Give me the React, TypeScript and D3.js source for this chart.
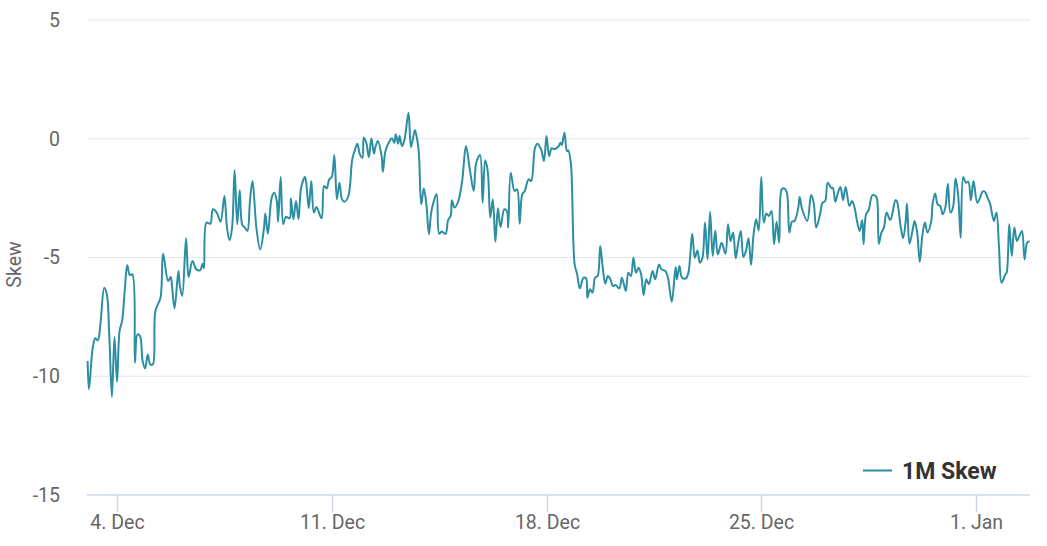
import * as React from 'react';
import * as d3 from 'd3';

// hours since 3 Dec 00:00
const hours = [
  1, 2, 5, 7, 9, 11, 14, 16, 18, 20, 22, 24, 26, 28, 30, 32, 34, 36, 38, 40, 42, 44, 46, 48, 50, 52, 54, 58,
  60, 64, 66, 67, 69, 72, 73, 75, 78, 80, 83, 86, 89, 91, 92, 94, 97, 99, 102, 105, 108, 110, 112, 114, 116,
  118, 120, 122, 124, 126, 128, 130, 133, 136, 139, 140, 142, 145, 147, 149, 150, 152, 154, 156, 159, 160,
  162, 164, 166, 168, 171, 172, 174, 176, 178, 180, 184, 186, 188, 190, 192, 194, 196, 198, 200, 202, 205,
  208, 210, 212, 214, 216, 217, 219, 221, 223, 225, 226, 228, 231, 232, 234, 237, 239, 241, 242, 244, 245,
  247, 249, 252, 254, 257, 258, 260, 262, 264, 266, 268, 270, 274, 276, 278, 281, 283, 285, 286, 288, 291,
  294, 297, 300, 303, 305, 308, 310, 312, 314, 316, 318, 320, 322, 324, 327, 329, 330, 332, 335, 337, 339,
  341, 343, 346, 348, 351, 353, 356, 358, 360, 362, 364, 366, 369, 371, 372, 374, 376, 377, 379, 382, 384,
  386, 389, 391, 392, 394, 396, 398, 400, 402, 404, 406, 408, 410, 412, 414, 417, 419, 422, 424, 426, 428,
  430, 432, 434, 436, 438, 440, 443, 445, 448, 450, 453, 455, 458, 461, 462, 464, 466, 469, 471, 474, 476,
  478, 480, 482, 484, 486, 488, 490, 492, 494, 497, 500, 502, 504, 506, 508, 510, 512, 514, 516, 518, 520,
  522, 524, 526, 528, 530, 532, 534, 536, 538, 540, 542, 544, 546, 548, 550, 552, 554, 557, 558, 560, 564,
  567, 569, 571, 574, 576, 578, 580, 583, 584, 586, 588, 590, 592, 594, 597, 599, 601, 603, 605, 607, 608,
  610, 612, 615, 618, 619, 620, 622, 624, 626, 629, 633, 634, 637, 639, 641, 642, 644, 647, 648, 650, 652,
  654, 656, 658, 661, 662, 664, 666, 668, 670, 672, 674, 676, 678, 680, 682, 684, 686, 688, 690, 692, 694,
  697, 699, 701, 703, 705, 707, 710, 712, 714, 716, 719, 720, 722, 724, 726, 728, 730, 732, 734, 736, 738,
];

const skew = [
  -9.36, -10.55, -8.8, -8.4, -8.49, -7.8, -6.27, -6.55, -8.38, -10.87, -8.35, -10.24, -8.09, -7.66, -6.41,
  -5.33, -5.74, -5.71, -9.43, -8.24, -8.31, -9.36, -9.67, -9.08, -9.5, -9.5, -7.25, -6.69,
  -4.84, -5.99, -5.82, -6.2, -7.14, -5.57, -6.13, -6.62, -4.19, -5.82, -5.15, -5.5, -5.54, -5.26, -5.45,
  -3.53, -3.58, -2.97, -3.11, -3.49, -2.41, -3.74, -4.27, -3.74, -1.33,
  -3.6, -2.17, -3.63, -3.74, -3.88, -2.6, -1.78, -3.74, -4.66, -3.74, -3.15, -4.0, -2.48, -2.27, -2.62,
  -3.49, -1.61, -3.6, -3.29, -3.35, -2.51,
  -3.39, -2.62, -3.39, -2.06, -1.61, -1.85, -2.93, -1.78, -3.11, -2.87, -3.35, -1.99, -2.09, -1.71, -1.61,
  -0.68, -2.55, -1.85, -2.55, -2.65, -2.41,
  -0.87, -0.49, -0.21, -0.66, -0.8, 0.04, -0.17, -0.77, 0.02, -0.63, -0.38, -0.09, -0.73, -1.39, -0.52,
  -0.12, 0.02, -0.17, 0.19, -0.21, 0.12,
  -0.31, -0.02, 1.1, -0.35, 0.36, 0.19, -0.52, -2.76, -2.09, -2.76, -4.02, -3.04, -2.34, -4.0, -3.91, -4.0,
  -3.43, -3.25, -2.59, -2.9, -2.62,
  -1.78, -0.31, -1.29, -2.2, -1.01, -0.68, -2.69, -0.91, -1.36, -3.32, -2.55, -4.33, -2.93, -3.72, -2.97,
  -3.04, -3.74, -1.43, -2.2, -2.13, -3.58,
  -2.34, -2.2, -1.71, -1.78, -0.38, -0.21, -0.49, -0.94, 0.12, -0.73, -0.4, -0.44, -0.35, -0.17, -0.26,
  0.25, -0.52, -0.49, -1.0, -5.29, -5.71,
  -6.3, -5.85, -5.88, -6.69, -6.34, -6.48, -5.85, -5.78, -4.52, -5.43, -6.1, -5.78, -5.92, -6.2, -6.16,
  -6.3, -5.85, -6.41, -5.64, -5.78, -5.01,
  -5.64, -5.43, -5.71, -6.58, -5.92, -6.13, -5.57, -5.92, -5.29, -5.5, -5.57, -5.85, -6.86, -5.4, -5.92,
  -5.36, -5.85, -5.88, -5.64, -4.0, -5.01,
  -4.7, -5.22, -5.01, -3.53, -5.08, -3.07, -4.94, -3.86, -4.87, -4.38, -4.84, -3.6, -4.31, -3.95, -5.03,
  -4.38, -3.88, -4.98, -4.73, -4.19, -5.32,
  -4.02, -3.39, -3.86, -1.61, -3.53, -3.15, -3.25, -3.04, -4.44, -3.49, -4.38, -2.13, -2.09, -2.27, -3.95,
  -3.49, -3.46, -2.9, -2.45, -2.97, -3.46,
  -2.37, -2.69, -3.74, -3.18, -2.69, -2.62, -1.85, -2.09, -2.06, -2.65, -2.27, -2.03, -2.59, -2.03, -2.83,
  -2.62, -2.9, -3.49, -3.88, -3.43, -4.44,
  -3.18, -3.01, -2.37, -2.45, -2.76, -4.42, -3.95, -3.74, -3.11, -3.42, -2.59, -2.62, -3.67, -4.19, -3.46,
  -2.73, -4.42, -3.67, -3.46, -3.95, -5.18,
  -4.09, -3.53, -3.95, -3.46, -2.76, -2.31, -2.76, -2.83, -3.18, -2.9, -1.89, -3.11, -2.9, -1.67, -2.34,
  -4.17, -1.61, -1.85, -1.81, -2.59, -1.78,
  -2.69, -2.51, -2.23, -2.23, -2.48, -2.73, -3.46, -3.11, -4.56, -6.06, -5.71, -5.64, -3.6, -4.94, -3.74,
  -4.31, -4.09, -3.88, -5.08, -4.38, -4.31,
];

const yTicks = [5, 0, -5, -10, -15];
const xTickDates = [
  new Date(2023, 11, 4),
  new Date(2023, 11, 11),
  new Date(2023, 11, 18),
  new Date(2023, 11, 25),
  new Date(2024, 0, 1),
];
const seriesName = '1M Skew';
const yTitle = 'Skew';

const start = new Date(2023, 11, 3);
const width = 1047;
const height = 546;
const color = '#2b8fa1';
const font = 'Roboto, sans-serif';

export default function App() {
  const x = d3
    .scaleTime()
    .domain([new Date(2023, 11, 3, 0, 30), new Date(2024, 0, 2, 18, 15)])
    .range([87, 1030]);
  const y = d3.scaleLinear().domain([-15, 5]).range([495, 20]);
  const fmt = d3.timeFormat('%-d. %b');

  const points = hours.map((h, i) => ({ t: d3.timeHour.offset(start, h), v: skew[i] }));
  const line = d3
    .line<{ t: Date; v: number }>()
    .x((d) => x(d.t))
    .y((d) => y(d.v))
    .curve(d3.curveCatmullRom.alpha(0.5));

  return (
    <svg
      width={width}
      height={height}
      style={{ position: 'absolute', left: 0, top: 0, background: '#fff' }}
      fontFamily={font}
    >
      {yTicks.map((t) => (
        <g key={t}>
          {t !== -15 && (
            <line x1={87} x2={1030} y1={y(t)} y2={y(t)} stroke="#e6e6e6" strokeWidth={1} />
          )}
          <text x={60} y={y(t)} dy="0.35em" textAnchor="end" fontSize={19.5} fill="#666">
            {t}
          </text>
        </g>
      ))}
      <text
        transform={`translate(21,${y(-5) + 7}) rotate(-90)`}
        textAnchor="middle"
        fontSize={19.5}
        fill="#666"
      >
        {yTitle}
      </text>

      <line x1={87} x2={1030} y1={495} y2={495} stroke="#ccd6eb" strokeWidth={1.5} />
      {xTickDates.map((d) => (
        <g key={+d} transform={`translate(${Math.round(x(d)) + 0.5},0)`}>
          <line y1={495} y2={512} stroke="#ccd6eb" strokeWidth={1.5} />
          <text y={528.5} textAnchor="middle" fontSize={19.5} fill="#666">
            {fmt(d)}
          </text>
        </g>
      ))}

      <path d={line(points) || ''} fill="none" stroke={color} strokeWidth={2} strokeLinejoin="round" />

      <g transform="translate(863,470.5)">
        <line x1={0} x2={29} y1={0} y2={0} stroke={color} strokeWidth={2} />
        <text x={39} y={0} dy="0.35em" fontSize={23} fontWeight="bold" fill="#333">
          {seriesName}
        </text>
      </g>
    </svg>
  );
}
